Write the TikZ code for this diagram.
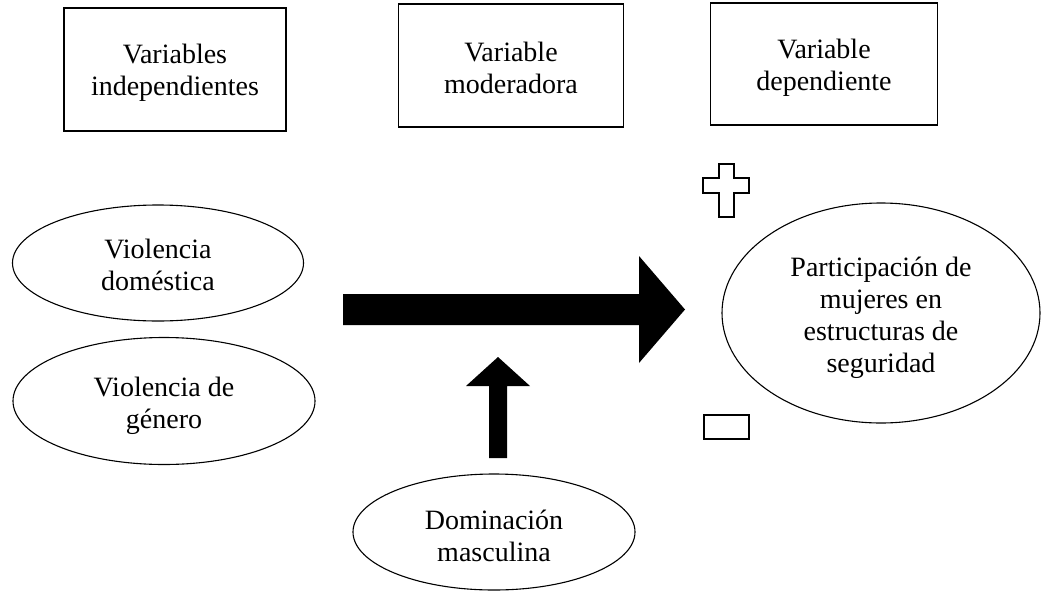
\documentclass[tikz,border=0pt]{standalone}
\usepackage{fontspec}
\setmainfont{Liberation Serif}
\usetikzlibrary{shapes.geometric}
\newcommand\topstrut[1]{\rule{0pt}{#1pt}}
\begin{document}
\begin{tikzpicture}[x=1pt,y=-1pt,
  txt/.style={align=center, font=\fontsize{28}{32}\selectfont, inner sep=0pt},
  varbox/.style={txt, draw, line width=1.6pt, minimum height=123pt},
  oval/.style={txt, draw, ellipse, line width=1.1pt},
  blockarrow/.style={fill=black, draw=none},
  sign/.style={draw, line width=1.6pt, fill=white}
]
\useasboundingbox (0,0) rectangle (1047,592);
% header boxes
\node[varbox, minimum width=222pt] (b1) at (175,69.5) {\topstrut{25}Variables\\independientes};
\node[varbox, minimum width=225pt] (b2) at (511,65.5) {\topstrut{25}Variable\\moderadora};
\node[varbox, minimum width=227pt, minimum height=122pt] (b3) at (824,64) {\topstrut{27}Variable\\dependiente};
% ellipses
\node[oval, minimum width=291pt, minimum height=116pt] (vd) at (158,263) {\topstrut{23}Violencia\\doméstica};
\node[oval, minimum width=302pt, minimum height=127pt] (vg) at (164,401) {\topstrut{29}Violencia de\\género};
\node[oval, minimum width=318pt, minimum height=220pt] (pm) at (881,313) {\topstrut{29}Participación de\\mujeres en\\estructuras de\\seguridad};
\node[oval, minimum width=282pt, minimum height=116pt] (dm) at (494,532) {\topstrut{28}Dominación\\masculina};
% block arrows
\fill[blockarrow] (343,294) -- (639,294) -- (639,256) -- (685,309.5) -- (639,363) -- (639,325) -- (343,325) -- cycle;
\fill[blockarrow] (489,458) -- (489,386) -- (466,386) -- (498,357) -- (530,386) -- (507,386) -- (507,458) -- cycle;
% plus sign
\draw[sign] (719,164) -- (734,164) -- (734,178) -- (749,178) -- (749,193) -- (734,193) -- (734,217) -- (719,217) -- (719,193) -- (703,193) -- (703,178) -- (719,178) -- cycle;
% minus sign
\draw[sign] (704,415) rectangle (749,439);
\end{tikzpicture}
\end{document}
